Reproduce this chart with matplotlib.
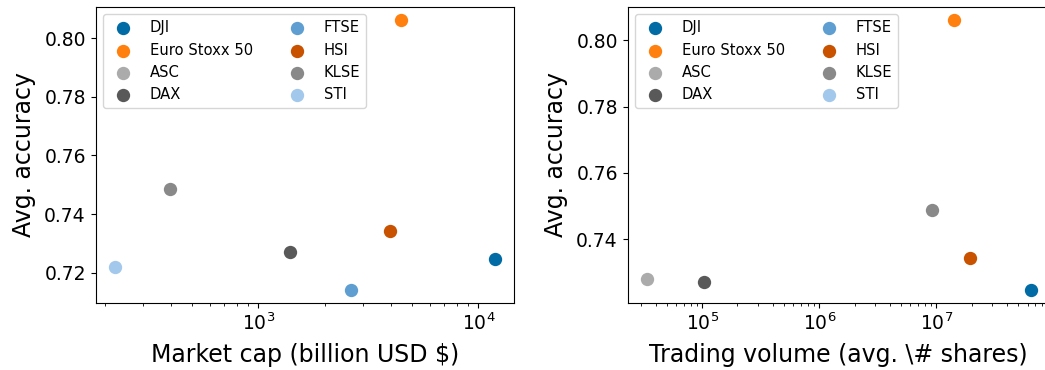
import numpy as np
import matplotlib
matplotlib.use("Agg")
import matplotlib.pyplot as plt

plt.style.use("tableau-colorblind10")

indices = ["DJI", "Euro Stoxx 50", "ASC", "DAX", "FTSE", "HSI", "KLSE", "STI"]
colors = ["#006BA4", "#FF800E", "#ABABAB", "#595959",
          "#5F9ED1", "#C85200", "#898989", "#A2C8EC"]
avg_accuracy = [0.7248, 0.8060, 0.7281, 0.7271, 0.7143, 0.7344, 0.7487, 0.7221]
# market capitalisation in billion USD (None = not available)
market_cap = [11900, 4450, None, 1394, 2630, 3970, 398, 222]
# average daily trading volume in number of shares (None = not available)
trading_volume = [6.4e7, 1.41e7, 33600, 102800, None, 1.92e7, 9.17e6, None]

fig = plt.figure(figsize=(10.45, 3.7), dpi=100)
W, H = 1045, 370
ax1 = fig.add_axes([95.5 / W, 1 - 303 / H, (514 - 95.5) / W, (303 - 7) / H])
ax2 = fig.add_axes([627.5 / W, 1 - 303 / H, (1050 - 627.5) / W, (303 - 7) / H])


def draw(ax, xs, xlabel):
    for name, c, x, y in zip(indices, colors, xs, avg_accuracy):
        if x is None:
            ax.scatter([], [], color=c, s=92, linewidths=0, label=name)
        else:
            ax.scatter([x], [y], color=c, s=92, linewidths=0, label=name)
    ax.set_xscale("log")
    ax.set_xlabel(xlabel, fontsize=17, labelpad=6)
    ax.set_ylabel("Avg. accuracy", fontsize=17, labelpad=6)
    ax.tick_params(labelsize=13.5)
    ax.legend(ncol=2, loc="upper left", fontsize=10.6)


draw(ax1, market_cap, "Market cap (billion USD $)")
draw(ax2, trading_volume, r"Trading volume (avg. \# shares)")

fig.savefig("out.png", dpi=100)
